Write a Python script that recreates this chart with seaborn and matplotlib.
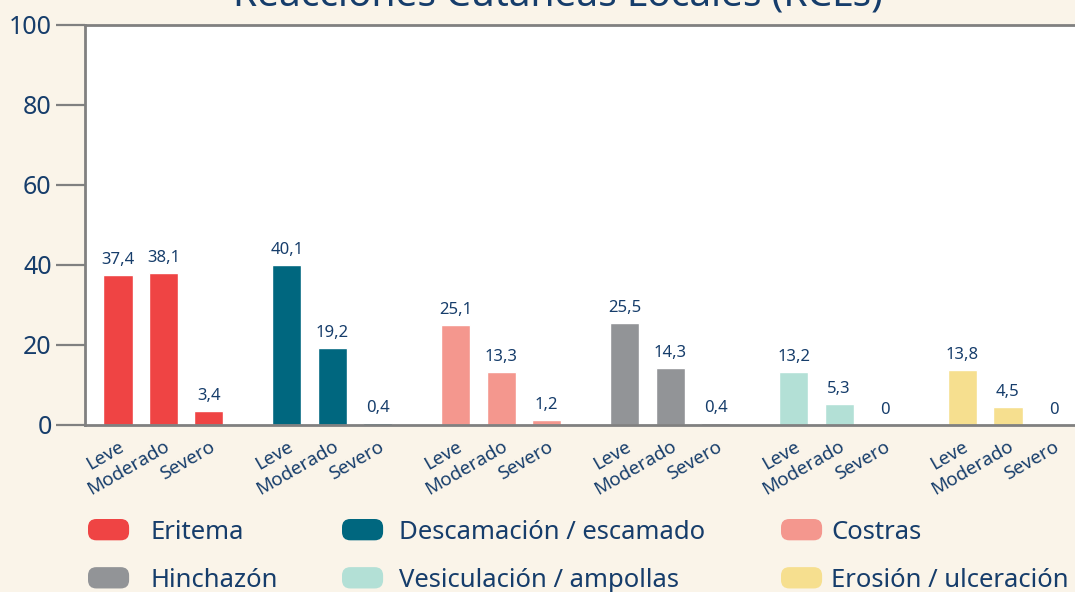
import numpy as np
import pandas as pd
import matplotlib
matplotlib.use("Agg")
import matplotlib.pyplot as plt
import matplotlib.transforms as mtransforms
import seaborn as sns
from matplotlib.patches import Patch, FancyBboxPatch
from matplotlib.legend_handler import HandlerPatch

# ---- data ----
categorias = ["Eritema", "Descamación / escamado", "Costras",
              "Hinchazón", "Vesiculación / ampollas", "Erosión / ulceración"]
niveles = ["Leve", "Moderado", "Severo"]
eritema = [37.4, 38.1, 3.4]
descamacion = [40.1, 19.2, 0.4]
costras = [25.1, 13.3, 1.2]
hinchazon = [25.5, 14.3, 0.4]
vesiculacion = [13.2, 5.3, 0.0]
erosion = [13.8, 4.5, 0.0]
colores = ["#EF4444", "#00677F", "#F4978E", "#929497", "#B3E0D6", "#F6DF8F"]
titulo = "Reacciones Cutáneas Locales (RCLs)"
y_ticks = [0, 20, 40, 60, 80, 100]

series = [eritema, descamacion, costras, hinchazon, vesiculacion, erosion]
GROUP_STEP = 3.714
rows = []
for g, (cat, vals) in enumerate(zip(categorias, series)):
    for l, (niv, v) in enumerate(zip(niveles, vals)):
        rows.append({"pos": round(g * GROUP_STEP + l, 3), "grupo": cat, "nivel": niv, "valor": v})
df = pd.DataFrame(rows)

NAVY = "#163d6b"
CREAM = "#FAF4E9"
GRAY = "#808080"

sns.set_theme(style="white")
plt.rcParams["font.family"] = ["Noto Sans", "DejaVu Sans"]

W, H = 1075, 592
fig = plt.figure(figsize=(W / 100, H / 100), dpi=100, facecolor=CREAM)
ax = fig.add_axes([85 / W, 1 - 425 / H, (1100 - 85) / W, 400 / H])
ax.set_facecolor("white")

sns.barplot(data=df, x="pos", y="valor", hue="grupo", hue_order=categorias,
            palette=colores, native_scale=True, dodge=False, width=0.64,
            saturation=1, errorbar=None, legend=False, ax=ax)

def fmt(v):
    return "0" if v == 0 else f"{v:.1f}".replace(".", ",")

for cont in ax.containers:
    labels = [fmt(b.get_height()) for b in cont]
    ax.bar_label(cont, labels=labels, padding=5, color=NAVY, fontsize=12)

ax.set_xlim(-0.725, (1100 - 117.5) / 45.5)
ax.set_ylim(0, 100)
ax.set_yticks(y_ticks)
ax.set_yticklabels([str(t) for t in y_ticks])
ax.set_xticks(df["pos"].tolist())
ax.set_xticklabels(df["nivel"].tolist(), rotation=30, ha="right",
                   rotation_mode="anchor", fontsize=13.5, color=NAVY)
offset = mtransforms.ScaledTranslation(-5 / 100, 1 / 100, fig.dpi_scale_trans)
for lbl in ax.get_xticklabels():
    lbl.set_transform(lbl.get_transform() + offset)
ax.tick_params(axis="x", length=0, pad=9)
ax.tick_params(axis="y", length=21, width=1.6, color=GRAY, labelsize=18,
               labelcolor=NAVY, pad=3, direction="out", left=True)
ax.set_xlabel("")
ax.set_ylabel("")
for side in ["left", "top", "bottom"]:
    ax.spines[side].set_visible(True)
    ax.spines[side].set_color(GRAY)
    ax.spines[side].set_linewidth(2)
ax.spines["right"].set_visible(False)

fig.text(0.519, 1 - 6 / H, titulo, ha="center", va="baseline",
         fontsize=28, fontweight="bold", color=NAVY)


class RoundHandler(HandlerPatch):
    def create_artists(self, legend, orig_handle, xdescent, ydescent,
                       width, height, fontsize, trans):
        p = FancyBboxPatch((-xdescent, -ydescent), width, height,
                           boxstyle="round,pad=0,rounding_size=6",
                           fc=orig_handle.get_facecolor(), ec="none",
                           transform=trans)
        return [p]


# three legend columns placed individually
columnas = [([0, 3], 88, 0.85), ([1, 4], 342, 0.62), ([2, 5], 781, 0.35)]
for idxs, x0, pad in columnas:
    hs = [Patch(facecolor=colores[i], label=categorias[i]) for i in idxs]
    fig.legend(handles=hs, ncol=1, loc="upper left",
               bbox_to_anchor=(x0 / W, 1 - 519 / H), frameon=False,
               fontsize=18.5, labelcolor=NAVY, handlelength=1.6,
               handleheight=0.9, handletextpad=pad,
               labelspacing=0.88, borderaxespad=0, borderpad=0,
               handler_map={Patch: RoundHandler()})

fig.savefig("out.png", dpi=100, facecolor=CREAM)
